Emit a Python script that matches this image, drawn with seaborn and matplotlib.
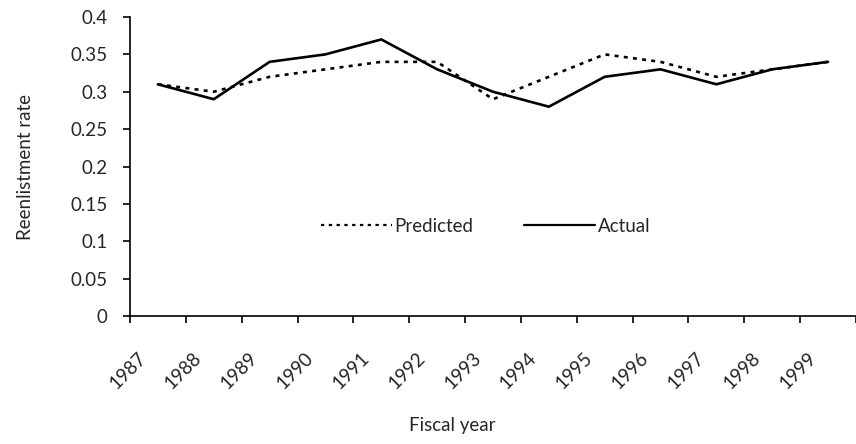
import matplotlib
matplotlib.use("Agg")
import matplotlib.pyplot as plt
import matplotlib.transforms as mtransforms
import seaborn as sns
import pandas as pd
import numpy as np

years = ["1987", "1988", "1989", "1990", "1991", "1992", "1993",
         "1994", "1995", "1996", "1997", "1998", "1999"]
predicted = [0.31, 0.30, 0.32, 0.33, 0.34, 0.34, 0.29,
             0.32, 0.35, 0.34, 0.32, 0.33, 0.34]
actual = [0.31, 0.29, 0.34, 0.35, 0.37, 0.33, 0.30,
          0.28, 0.32, 0.33, 0.31, 0.33, 0.34]
yticks = [0, 0.05, 0.1, 0.15, 0.2, 0.25, 0.3, 0.35, 0.4]
ytick_labels = ["0", "0.05", "0.1", "0.15", "0.2", "0.25", "0.3", "0.35", "0.4"]

sns.set_theme(style="ticks")
plt.rcParams['font.family'] = ['Lato', 'DejaVu Sans']
FS = 13.5

df = pd.DataFrame({
    "idx": list(range(len(years))) * 2,
    "rate": predicted + actual,
    "series": ["Predicted"] * len(years) + ["Actual"] * len(years),
})

fig = plt.figure(figsize=(8.56, 4.44), dpi=100)
ax = fig.add_axes([130 / 856, 1 - 316 / 444, 726 / 856, (316 - 17) / 444])

sns.lineplot(data=df, x="idx", y="rate", hue="series", style="series",
             palette={"Predicted": "black", "Actual": "black"},
             dashes={"Predicted": (1.5, 2.0), "Actual": ""},
             linewidth=1.9, ax=ax, legend=True)

ax.set_xlim(-0.5, len(years) - 0.5)
ax.set_ylim(0, 0.4)
ax.set_yticks(yticks)
ax.set_yticklabels(ytick_labels, fontsize=FS)
ax.tick_params(axis="y", length=5, width=1.2, color="black", pad=11)

ax.set_xticks(range(len(years)))
ax.set_xticklabels(years, rotation=45, ha="right", rotation_mode="anchor", fontsize=FS)
ax.tick_params(axis="x", which="major", length=0, pad=24)
ax.set_xticks(np.arange(-0.5, len(years), 1.0), minor=True)
ax.tick_params(axis="x", which="minor", length=5, width=1.2, color="black")

offset = mtransforms.ScaledTranslation(-0.21, 0, fig.dpi_scale_trans)
for lab in ax.get_xticklabels():
    lab.set_transform(lab.get_transform() + offset)

for s in ["top", "right"]:
    ax.spines[s].set_visible(False)
for s in ["left", "bottom"]:
    ax.spines[s].set_color("black")
    ax.spines[s].set_linewidth(1.2)

ax.set_xlabel("Fiscal year", fontsize=FS)
ax.xaxis.set_label_coords((452 - 130) / 726, (316 - 417) / 299)
ax.set_ylabel("Reenlistment rate", fontsize=FS)
ax.yaxis.set_label_coords((34 - 130) / 726, 0.5)

leg = ax.legend(loc="center", bbox_to_anchor=(0.49, 0.30), ncol=2, frameon=False,
                fontsize=FS, handlelength=3.8, handletextpad=0.15, columnspacing=2.7)
for h in leg.get_lines():
    h.set_linewidth(1.6)

fig.savefig("out.png", dpi=100, facecolor="white")
